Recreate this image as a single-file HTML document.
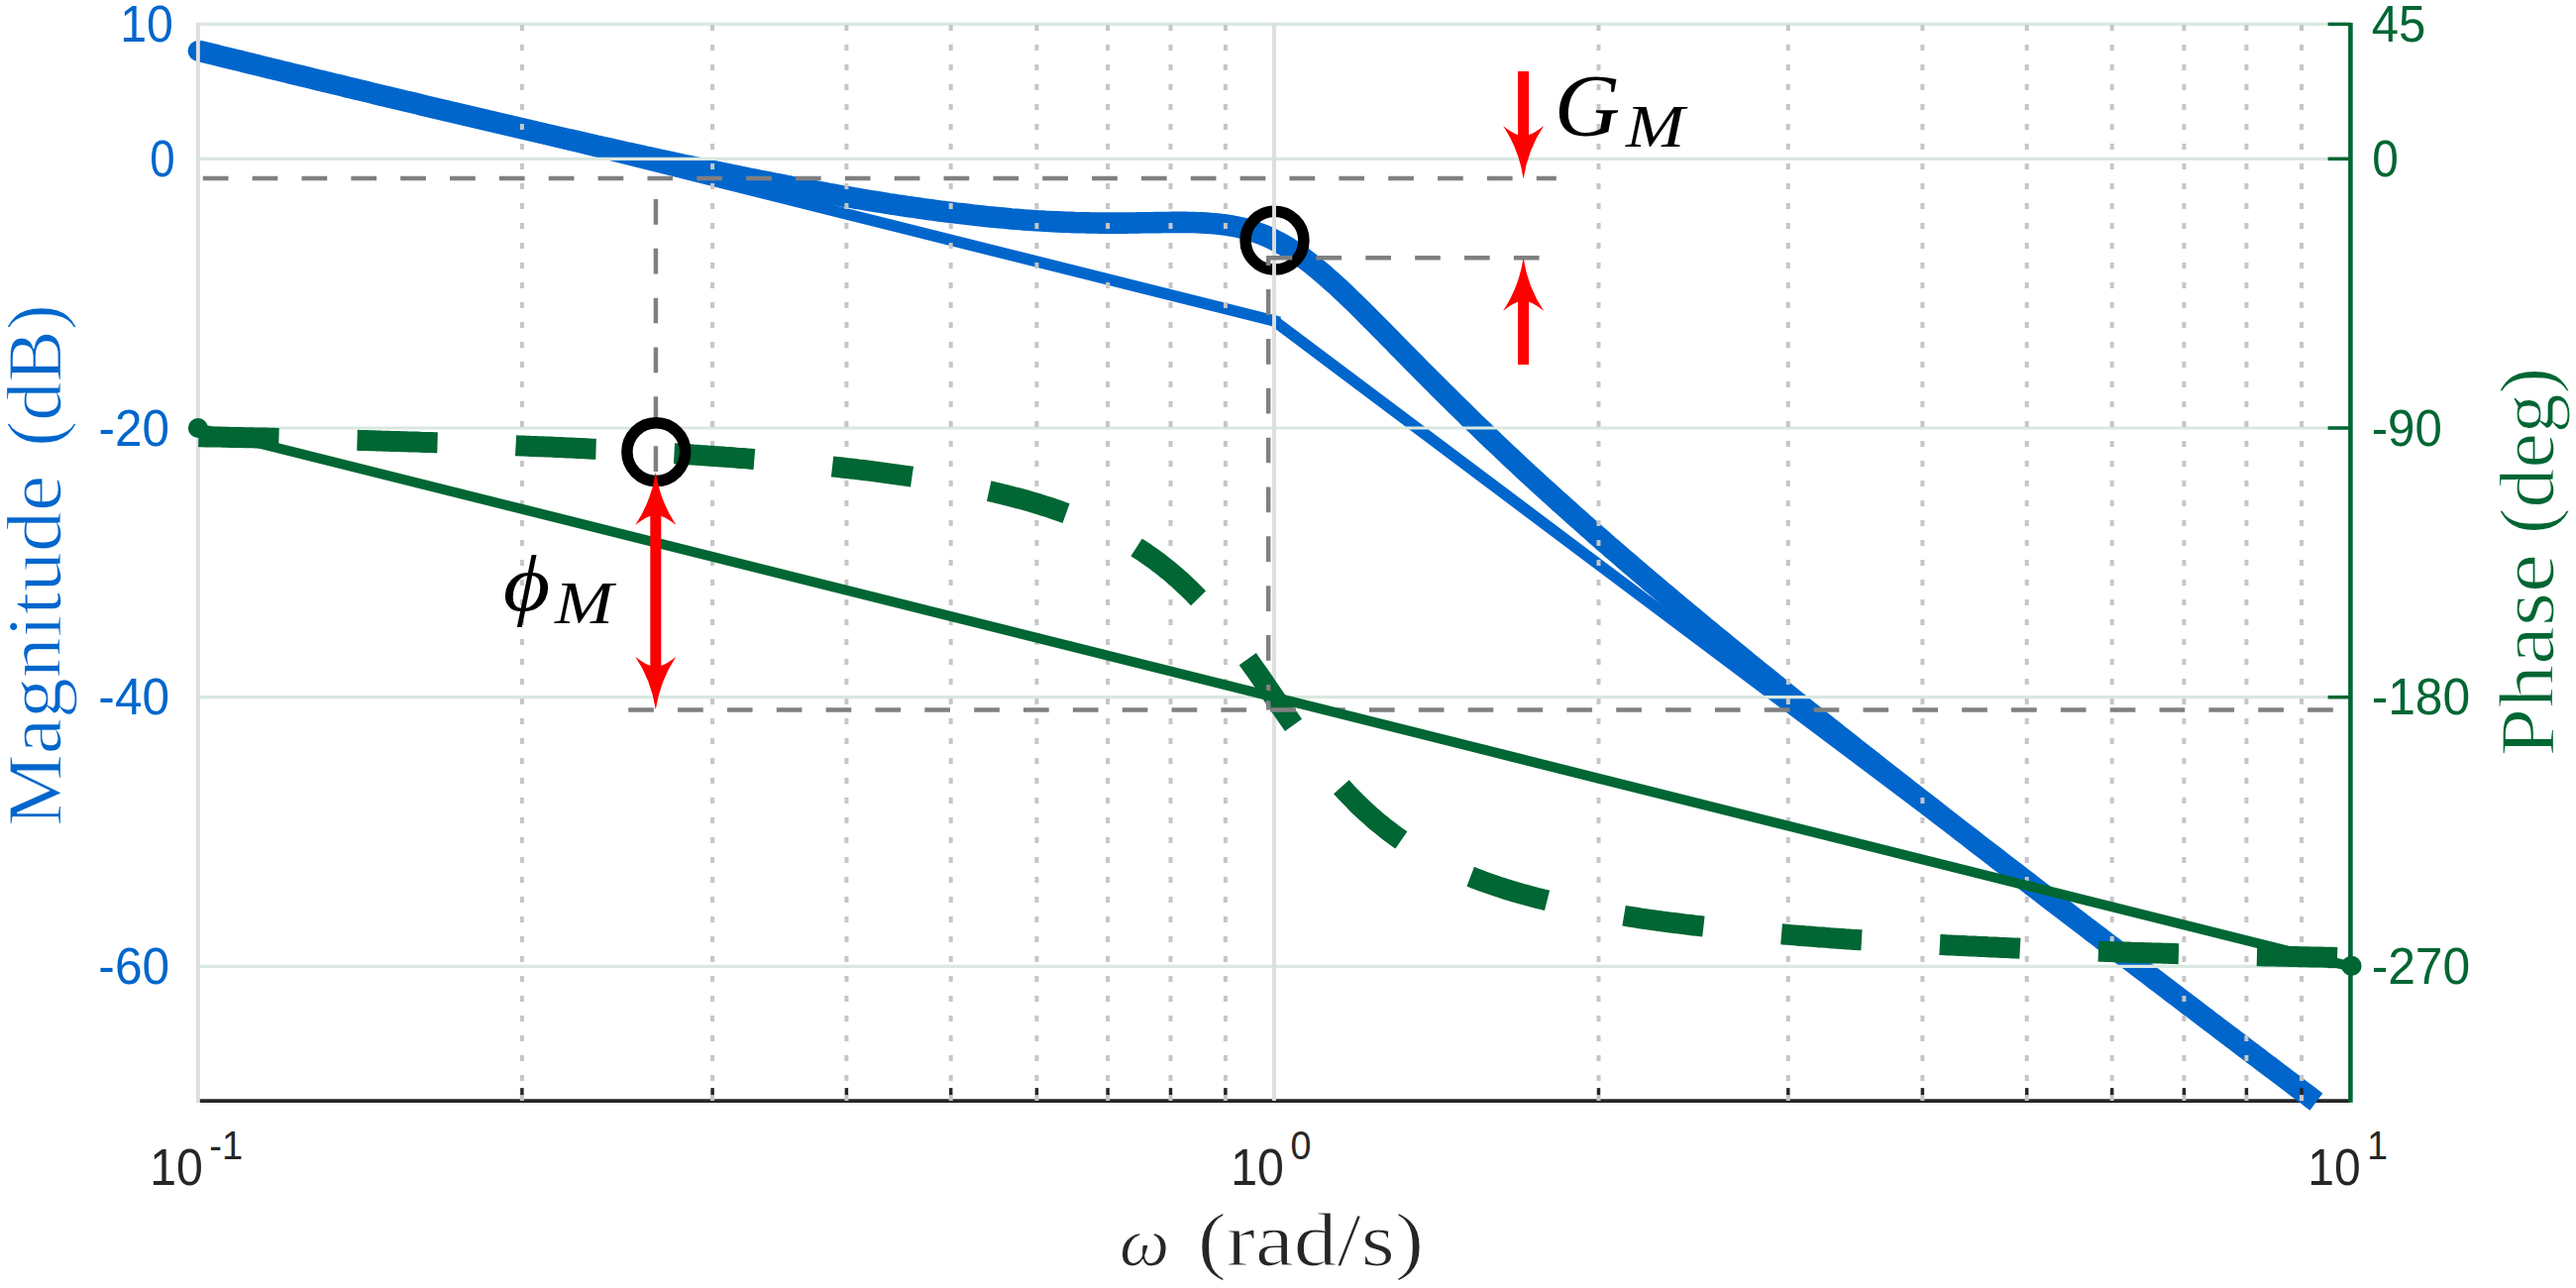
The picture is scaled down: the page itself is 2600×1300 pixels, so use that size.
<!DOCTYPE html>
<html lang="en"><head><meta charset="utf-8"><title>Bode plot</title>
<style>html,body{margin:0;padding:0;background:#fff;overflow:hidden}svg{display:block}.s{font-family:"Liberation Sans",sans-serif}.r{font-family:"Liberation Serif",serif;stroke:#fff;stroke-width:1.2px}.m{font-family:"Liberation Serif",serif}</style></head><body>
<svg width="2600" height="1300" viewBox="0 0 2600 1300" role="img" aria-label="Bode plot with gain and phase margins">
<rect width="2600" height="1300" fill="#fff"/>
<line x1="198.2" y1="1111.1" x2="2372.1" y2="1111.1" stroke="#262626" stroke-width="3.6"/>
<path d="M199.9 51.1 L204.2 52.2 L208.5 53.2 L212.8 54.3 L217.1 55.3 L221.3 56.4 L225.6 57.4 L229.9 58.5 L234.2 59.5 L238.4 60.6 L242.7 61.6 L247.0 62.7 L251.3 63.7 L255.5 64.8 L259.8 65.8 L264.1 66.9 L268.4 67.9 L272.6 69.0 L276.9 70.0 L281.2 71.0 L285.5 72.1 L289.7 73.1 L294.0 74.2 L298.3 75.2 L302.6 76.2 L306.8 77.3 L311.1 78.3 L315.4 79.4 L319.7 80.4 L324.0 81.4 L328.2 82.5 L332.5 83.5 L336.8 84.6 L341.1 85.6 L345.3 86.6 L349.6 87.7 L353.9 88.7 L358.2 89.7 L362.4 90.8 L366.7 91.8 L371.0 92.8 L375.3 93.9 L379.5 94.9 L383.8 95.9 L388.1 96.9 L392.4 98.0 L396.6 99.0 L400.9 100.0 L405.2 101.0 L409.5 102.1 L413.7 103.1 L418.0 104.1 L422.3 105.1 L426.6 106.2 L430.9 107.2 L435.1 108.2 L439.4 109.2 L443.7 110.2 L448.0 111.2 L452.2 112.3 L456.5 113.3 L460.8 114.3 L465.1 115.3 L469.3 116.3 L473.6 117.3 L477.9 118.3 L482.2 119.3 L486.4 120.3 L490.7 121.3 L495.0 122.3 L499.3 123.3 L503.5 124.3 L507.8 125.3 L512.1 126.3 L516.4 127.3 L520.6 128.3 L524.9 129.3 L529.2 130.3 L533.5 131.3 L537.7 132.3 L542.0 133.3 L546.3 134.3 L550.6 135.3 L554.9 136.2 L559.1 137.2 L563.4 138.2 L567.7 139.2 L572.0 140.2 L576.2 141.1 L580.5 142.1 L584.8 143.1 L589.1 144.1 L593.3 145.0 L597.6 146.0 L601.9 147.0 L606.2 147.9 L610.4 148.9 L614.7 149.8 L619.0 150.8 L623.3 151.7 L627.5 152.7 L631.8 153.7 L636.1 154.6 L640.4 155.5 L644.6 156.5 L648.9 157.4 L653.2 158.4 L657.5 159.3 L661.8 160.2 L666.0 161.2 L670.3 162.1 L674.6 163.0 L678.9 163.9 L683.1 164.9 L687.4 165.8 L691.7 166.7 L696.0 167.6 L700.2 168.5 L704.5 169.4 L708.8 170.3 L713.1 171.2 L717.3 172.1 L721.6 173.0 L725.9 173.9 L730.2 174.8 L734.4 175.6 L738.7 176.5 L743.0 177.4 L747.3 178.3 L751.5 179.1 L755.8 180.0 L760.1 180.8 L764.4 181.7 L768.6 182.5 L772.9 183.4 L777.2 184.2 L781.5 185.1 L785.8 185.9 L790.0 186.7 L794.3 187.5 L798.6 188.4 L802.9 189.2 L807.1 190.0 L811.4 190.8 L815.7 191.6 L820.0 192.4 L824.2 193.2 L828.5 193.9 L832.8 194.7 L837.1 195.5 L841.3 196.2 L845.6 197.0 L849.9 197.8 L854.2 198.5 L858.4 199.2 L862.7 200.0 L867.0 200.7 L871.3 201.4 L875.5 202.1 L879.8 202.8 L884.1 203.5 L888.4 204.2 L892.7 204.9 L896.9 205.6 L901.2 206.2 L905.5 206.9 L909.8 207.5 L914.0 208.2 L918.3 208.8 L922.6 209.4 L926.9 210.0 L931.1 210.6 L935.4 211.2 L939.7 211.8 L944.0 212.4 L948.2 213.0 L952.5 213.5 L956.8 214.1 L961.1 214.6 L965.3 215.1 L969.6 215.6 L973.9 216.1 L978.2 216.6 L982.4 217.1 L986.7 217.6 L991.0 218.0 L995.3 218.5 L999.6 218.9 L1003.8 219.3 L1008.1 219.7 L1012.4 220.1 L1016.7 220.5 L1020.9 220.9 L1025.2 221.2 L1029.5 221.6 L1033.8 221.9 L1038.0 222.2 L1042.3 222.5 L1046.6 222.8 L1050.9 223.0 L1055.1 223.3 L1059.4 223.5 L1063.7 223.7 L1068.0 223.9 L1072.2 224.1 L1076.5 224.3 L1080.8 224.4 L1085.1 224.6 L1089.3 224.7 L1093.6 224.8 L1097.9 224.9 L1102.2 225.0 L1106.4 225.0 L1110.7 225.1 L1115.0 225.1 L1119.3 225.1 L1123.6 225.1 L1127.8 225.1 L1132.1 225.1 L1136.4 225.1 L1140.7 225.0 L1144.9 225.0 L1149.2 224.9 L1153.5 224.8 L1157.8 224.8 L1162.0 224.7 L1166.3 224.6 L1170.6 224.6 L1174.9 224.5 L1179.1 224.5 L1183.4 224.4 L1187.7 224.4 L1192.0 224.4 L1196.2 224.4 L1200.5 224.5 L1204.8 224.5 L1209.1 224.7 L1213.3 224.9 L1217.6 225.1 L1221.9 225.4 L1226.2 225.7 L1230.5 226.2 L1234.7 226.7 L1239.0 227.3 L1243.3 228.0 L1247.6 228.8 L1251.8 229.7 L1256.1 230.8 L1260.4 232.0 L1264.7 233.3 L1268.9 234.8 L1273.2 236.4 L1277.5 238.1 L1281.8 240.0 L1286.0 242.1 L1290.3 244.3 L1294.6 246.7 L1298.9 249.2 L1303.1 251.9 L1307.4 254.7 L1311.7 257.6 L1316.0 260.7 L1320.2 264.0 L1324.5 267.3 L1328.8 270.8 L1333.1 274.4 L1337.3 278.0 L1341.6 281.8 L1345.9 285.6 L1350.2 289.5 L1354.5 293.5 L1358.7 297.6 L1363.0 301.7 L1367.3 305.8 L1371.6 310.0 L1375.8 314.2 L1380.1 318.5 L1384.4 322.8 L1388.7 327.1 L1392.9 331.4 L1397.2 335.7 L1401.5 340.1 L1405.8 344.4 L1410.0 348.8 L1414.3 353.1 L1418.6 357.5 L1422.9 361.8 L1427.1 366.1 L1431.4 370.5 L1435.7 374.8 L1440.0 379.1 L1444.2 383.4 L1448.5 387.7 L1452.8 392.0 L1457.1 396.2 L1461.4 400.5 L1465.6 404.7 L1469.9 408.9 L1474.2 413.1 L1478.5 417.3 L1482.7 421.5 L1487.0 425.7 L1491.3 429.8 L1495.6 433.9 L1499.8 438.0 L1504.1 442.1 L1508.4 446.2 L1512.7 450.3 L1516.9 454.3 L1521.2 458.3 L1525.5 462.4 L1529.8 466.4 L1534.0 470.3 L1538.3 474.3 L1542.6 478.3 L1546.9 482.2 L1551.1 486.1 L1555.4 490.1 L1559.7 494.0 L1564.0 497.8 L1568.3 501.7 L1572.5 505.6 L1576.8 509.4 L1581.1 513.3 L1585.4 517.1 L1589.6 520.9 L1593.9 524.7 L1598.2 528.5 L1602.5 532.3 L1606.7 536.0 L1611.0 539.8 L1615.3 543.5 L1619.6 547.3 L1623.8 551.0 L1628.1 554.7 L1632.4 558.4 L1636.7 562.1 L1640.9 565.8 L1645.2 569.4 L1649.5 573.1 L1653.8 576.8 L1658.0 580.4 L1662.3 584.0 L1666.6 587.7 L1670.9 591.3 L1675.1 594.9 L1679.4 598.5 L1683.7 602.1 L1688.0 605.7 L1692.3 609.3 L1696.5 612.9 L1700.8 616.4 L1705.1 620.0 L1709.4 623.5 L1713.6 627.1 L1717.9 630.6 L1722.2 634.2 L1726.5 637.7 L1730.7 641.2 L1735.0 644.7 L1739.3 648.2 L1743.6 651.8 L1747.8 655.2 L1752.1 658.7 L1756.4 662.2 L1760.7 665.7 L1764.9 669.2 L1769.2 672.7 L1773.5 676.1 L1777.8 679.6 L1782.0 683.0 L1786.3 686.5 L1790.6 689.9 L1794.9 693.4 L1799.2 696.8 L1803.4 700.3 L1807.7 703.7 L1812.0 707.1 L1816.3 710.5 L1820.5 714.0 L1824.8 717.4 L1829.1 720.8 L1833.4 724.2 L1837.6 727.6 L1841.9 731.0 L1846.2 734.4 L1850.5 737.8 L1854.7 741.2 L1859.0 744.5 L1863.3 747.9 L1867.6 751.3 L1871.8 754.7 L1876.1 758.0 L1880.4 761.4 L1884.7 764.8 L1888.9 768.1 L1893.2 771.5 L1897.5 774.9 L1901.8 778.2 L1906.0 781.6 L1910.3 784.9 L1914.6 788.3 L1918.9 791.6 L1923.2 794.9 L1927.4 798.3 L1931.7 801.6 L1936.0 805.0 L1940.3 808.3 L1944.5 811.6 L1948.8 814.9 L1953.1 818.3 L1957.4 821.6 L1961.6 824.9 L1965.9 828.2 L1970.2 831.5 L1974.5 834.9 L1978.7 838.2 L1983.0 841.5 L1987.3 844.8 L1991.6 848.1 L1995.8 851.4 L2000.1 854.7 L2004.4 858.0 L2008.7 861.3 L2012.9 864.6 L2017.2 867.9 L2021.5 871.2 L2025.8 874.5 L2030.1 877.8 L2034.3 881.1 L2038.6 884.4 L2042.9 887.6 L2047.2 890.9 L2051.4 894.2 L2055.7 897.5 L2060.0 900.8 L2064.3 904.1 L2068.5 907.3 L2072.8 910.6 L2077.1 913.9 L2081.4 917.2 L2085.6 920.4 L2089.9 923.7 L2094.2 927.0 L2098.5 930.3 L2102.7 933.5 L2107.0 936.8 L2111.3 940.1 L2115.6 943.3 L2119.8 946.6 L2124.1 949.9 L2128.4 953.1 L2132.7 956.4 L2137.0 959.6 L2141.2 962.9 L2145.5 966.2 L2149.8 969.4 L2154.1 972.7 L2158.3 975.9 L2162.6 979.2 L2166.9 982.4 L2171.2 985.7 L2175.4 989.0 L2179.7 992.2 L2184.0 995.5 L2188.3 998.7 L2192.5 1002.0 L2196.8 1005.2 L2201.1 1008.5 L2205.4 1011.7 L2209.6 1015.0 L2213.9 1018.2 L2218.2 1021.4 L2222.5 1024.7 L2226.7 1027.9 L2231.0 1031.2 L2235.3 1034.4 L2239.6 1037.7 L2243.8 1040.9 L2248.1 1044.1 L2252.4 1047.4 L2256.7 1050.6 L2261.0 1053.9 L2265.2 1057.1 L2269.5 1060.3 L2273.8 1063.6 L2278.1 1066.8 L2282.3 1070.1 L2286.6 1073.3 L2290.9 1076.5 L2295.2 1079.8 L2299.4 1083.0 L2303.7 1086.2 L2308.0 1089.5 L2312.3 1092.7 L2316.5 1095.9 L2320.8 1099.2 L2325.1 1102.4 L2329.4 1105.6 L2333.6 1108.9 L2337.9 1112.1" fill="none" stroke="#0066cc" stroke-width="21.6" stroke-linejoin="round"/>
<circle cx="199.9" cy="51.4" r="10.3" fill="#0066cc"/>
<line x1="199.9" y1="52.2" x2="1286.0" y2="323.9" stroke="#0066cc" stroke-width="11.5" stroke-linecap="square"/>
<line x1="1286.0" y1="323.9" x2="2322.5" y2="1101.7" stroke="#0066cc" stroke-width="11.5" stroke-linecap="square"/>
<circle cx="1286.5" cy="242.7" r="29.4" fill="none" stroke="#000" stroke-width="11.5"/>
<line x1="198.0" y1="24.4" x2="2372.1" y2="24.4" stroke="#d9e8e1" stroke-width="3.2"/>
<line x1="198.0" y1="160.3" x2="2372.1" y2="160.3" stroke="#d9e8e1" stroke-width="3.2"/>
<line x1="198.0" y1="432.0" x2="2372.1" y2="432.0" stroke="#d9e8e1" stroke-width="3.2"/>
<line x1="198.0" y1="703.7" x2="2372.1" y2="703.7" stroke="#d9e8e1" stroke-width="3.2"/>
<line x1="198.0" y1="975.4" x2="2372.1" y2="975.4" stroke="#d9e8e1" stroke-width="3.2"/>
<line x1="526.9" y1="24.9" x2="526.9" y2="1111.1" stroke="#c6c6c6" stroke-width="4" stroke-dasharray="6 14"/>
<line x1="526.9" y1="1098.1" x2="526.9" y2="1105.1" stroke="#262626" stroke-width="3.5"/>
<line x1="719.1" y1="24.9" x2="719.1" y2="1111.1" stroke="#c6c6c6" stroke-width="4" stroke-dasharray="6 14"/>
<line x1="719.1" y1="1098.1" x2="719.1" y2="1105.1" stroke="#262626" stroke-width="3.5"/>
<line x1="854.4" y1="24.9" x2="854.4" y2="1111.1" stroke="#c6c6c6" stroke-width="4" stroke-dasharray="6 14"/>
<line x1="854.4" y1="1098.1" x2="854.4" y2="1105.1" stroke="#262626" stroke-width="3.5"/>
<line x1="959.7" y1="24.9" x2="959.7" y2="1111.1" stroke="#c6c6c6" stroke-width="4" stroke-dasharray="6 14"/>
<line x1="959.7" y1="1098.1" x2="959.7" y2="1105.1" stroke="#262626" stroke-width="3.5"/>
<line x1="1046.4" y1="24.9" x2="1046.4" y2="1111.1" stroke="#c6c6c6" stroke-width="4" stroke-dasharray="6 14"/>
<line x1="1046.4" y1="1098.1" x2="1046.4" y2="1105.1" stroke="#262626" stroke-width="3.5"/>
<line x1="1118.1" y1="24.9" x2="1118.1" y2="1111.1" stroke="#c6c6c6" stroke-width="4" stroke-dasharray="6 14"/>
<line x1="1118.1" y1="1098.1" x2="1118.1" y2="1105.1" stroke="#262626" stroke-width="3.5"/>
<line x1="1181.5" y1="24.9" x2="1181.5" y2="1111.1" stroke="#c6c6c6" stroke-width="4" stroke-dasharray="6 14"/>
<line x1="1181.5" y1="1098.1" x2="1181.5" y2="1105.1" stroke="#262626" stroke-width="3.5"/>
<line x1="1236.9" y1="24.9" x2="1236.9" y2="1111.1" stroke="#c6c6c6" stroke-width="4" stroke-dasharray="6 14"/>
<line x1="1236.9" y1="1098.1" x2="1236.9" y2="1105.1" stroke="#262626" stroke-width="3.5"/>
<line x1="1613.5" y1="24.9" x2="1613.5" y2="1111.1" stroke="#c6c6c6" stroke-width="4" stroke-dasharray="6 14"/>
<line x1="1613.5" y1="1098.1" x2="1613.5" y2="1105.1" stroke="#262626" stroke-width="3.5"/>
<line x1="1804.8" y1="24.9" x2="1804.8" y2="1111.1" stroke="#c6c6c6" stroke-width="4" stroke-dasharray="6 14"/>
<line x1="1804.8" y1="1098.1" x2="1804.8" y2="1105.1" stroke="#262626" stroke-width="3.5"/>
<line x1="1940.4" y1="24.9" x2="1940.4" y2="1111.1" stroke="#c6c6c6" stroke-width="4" stroke-dasharray="6 14"/>
<line x1="1940.4" y1="1098.1" x2="1940.4" y2="1105.1" stroke="#262626" stroke-width="3.5"/>
<line x1="2045.7" y1="24.9" x2="2045.7" y2="1111.1" stroke="#c6c6c6" stroke-width="4" stroke-dasharray="6 14"/>
<line x1="2045.7" y1="1098.1" x2="2045.7" y2="1105.1" stroke="#262626" stroke-width="3.5"/>
<line x1="2131.7" y1="24.9" x2="2131.7" y2="1111.1" stroke="#c6c6c6" stroke-width="4" stroke-dasharray="6 14"/>
<line x1="2131.7" y1="1098.1" x2="2131.7" y2="1105.1" stroke="#262626" stroke-width="3.5"/>
<line x1="2204.4" y1="24.9" x2="2204.4" y2="1111.1" stroke="#c6c6c6" stroke-width="4" stroke-dasharray="6 14"/>
<line x1="2204.4" y1="1098.1" x2="2204.4" y2="1105.1" stroke="#262626" stroke-width="3.5"/>
<line x1="2267.4" y1="24.9" x2="2267.4" y2="1111.1" stroke="#c6c6c6" stroke-width="4" stroke-dasharray="6 14"/>
<line x1="2267.4" y1="1098.1" x2="2267.4" y2="1105.1" stroke="#262626" stroke-width="3.5"/>
<line x1="2323.0" y1="24.9" x2="2323.0" y2="1111.1" stroke="#c6c6c6" stroke-width="4" stroke-dasharray="6 14"/>
<line x1="2323.0" y1="1098.1" x2="2323.0" y2="1105.1" stroke="#262626" stroke-width="3.5"/>
<line x1="199.9" y1="22.9" x2="199.9" y2="1112.9" stroke="#dedede" stroke-width="3.9"/>
<line x1="1286.0" y1="22.9" x2="1286.0" y2="1111.1" stroke="#dedede" stroke-width="3.9"/>
<path d="M199.9 440.7 L203.6 440.8 L207.2 440.9 L210.8 440.9 L214.4 441.0 L218.1 441.1 L221.7 441.1 L225.3 441.2 L228.9 441.3 L232.5 441.4 L236.2 441.4 L239.8 441.5 L243.4 441.6 L247.0 441.7 L250.6 441.7 L254.3 441.8 L257.9 441.9 L261.5 442.0 L265.1 442.1 L268.7 442.1 L272.4 442.2 L276.0 442.3 L279.6 442.4 L283.2 442.5 L286.8 442.5 L290.5 442.6 L294.1 442.7 L297.7 442.8 L301.3 442.9 L304.9 443.0 L308.6 443.0 L312.2 443.1 L315.8 443.2 L319.4 443.3 L323.0 443.4 L326.7 443.5 L330.3 443.6 L333.9 443.7 L337.5 443.8 L341.1 443.9 L344.8 444.0 L348.4 444.1 L352.0 444.2 L355.6 444.2 L359.2 444.3 L362.9 444.4 L366.5 444.5 L370.1 444.6 L373.7 444.7 L377.3 444.8 L381.0 444.9 L384.6 445.1 L388.2 445.2 L391.8 445.3 L395.4 445.4 L399.1 445.5 L402.7 445.6 L406.3 445.7 L409.9 445.8 L413.5 445.9 L417.2 446.0 L420.8 446.1 L424.4 446.3 L428.0 446.4 L431.7 446.5 L435.3 446.6 L438.9 446.7 L442.5 446.8 L446.1 447.0 L449.8 447.1 L453.4 447.2 L457.0 447.3 L460.6 447.5 L464.2 447.6 L467.9 447.7 L471.5 447.8 L475.1 448.0 L478.7 448.1 L482.3 448.2 L486.0 448.4 L489.6 448.5 L493.2 448.6 L496.8 448.8 L500.4 448.9 L504.1 449.0 L507.7 449.2 L511.3 449.3 L514.9 449.5 L518.5 449.6 L522.2 449.8 L525.8 449.9 L529.4 450.1 L533.0 450.2 L536.6 450.4 L540.3 450.5 L543.9 450.7 L547.5 450.8 L551.1 451.0 L554.7 451.1 L558.4 451.3 L562.0 451.5 L565.6 451.6 L569.2 451.8 L572.8 452.0 L576.5 452.1 L580.1 452.3 L583.7 452.5 L587.3 452.6 L590.9 452.8 L594.6 453.0 L598.2 453.2 L601.8 453.3 L605.4 453.5 L609.0 453.7 L612.7 453.9 L616.3 454.1 L619.9 454.3 L623.5 454.5 L627.1 454.7 L630.8 454.9 L634.4 455.0 L638.0 455.2 L641.6 455.5 L645.3 455.7 L648.9 455.9 L652.5 456.1 L656.1 456.3 L659.7 456.5 L663.4 456.7 L667.0 456.9 L670.6 457.1 L674.2 457.4 L677.8 457.6 L681.5 457.8 L685.1 458.0 L688.7 458.3 L692.3 458.5 L695.9 458.7 L699.6 459.0 L703.2 459.2 L706.8 459.5 L710.4 459.7 L714.0 460.0 L717.7 460.2 L721.3 460.5 L724.9 460.7 L728.5 461.0 L732.1 461.3 L735.8 461.5 L739.4 461.8 L743.0 462.1 L746.6 462.4 L750.2 462.6 L753.9 462.9 L757.5 463.2 L761.1 463.5 L764.7 463.8 L768.3 464.1 L772.0 464.4 L775.6 464.7 L779.2 465.0 L782.8 465.3 L786.4 465.7 L790.1 466.0 L793.7 466.3 L797.3 466.6 L800.9 467.0 L804.5 467.3 L808.2 467.7 L811.8 468.0 L815.4 468.4 L819.0 468.7 L822.6 469.1 L826.3 469.4 L829.9 469.8 L833.5 470.2 L837.1 470.6 L840.7 471.0 L844.4 471.4 L848.0 471.8 L851.6 472.2 L855.2 472.6 L858.9 473.0 L862.5 473.4 L866.1 473.9 L869.7 474.3 L873.3 474.7 L877.0 475.2 L880.6 475.7 L884.2 476.1 L887.8 476.6 L891.4 477.1 L895.1 477.6 L898.7 478.1 L902.3 478.6 L905.9 479.1 L909.5 479.6 L913.2 480.1 L916.8 480.6 L920.4 481.2 L924.0 481.7 L927.6 482.3 L931.3 482.9 L934.9 483.5 L938.5 484.1 L942.1 484.7 L945.7 485.3 L949.4 485.9 L953.0 486.5 L956.6 487.2 L960.2 487.9 L963.8 488.5 L967.5 489.2 L971.1 489.9 L974.7 490.6 L978.3 491.4 L981.9 492.1 L985.6 492.9 L989.2 493.6 L992.8 494.4 L996.4 495.2 L1000.0 496.0 L1003.7 496.9 L1007.3 497.7 L1010.9 498.6 L1014.5 499.5 L1018.1 500.4 L1021.8 501.3 L1025.4 502.3 L1029.0 503.2 L1032.6 504.2 L1036.2 505.2 L1039.9 506.3 L1043.5 507.3 L1047.1 508.4 L1050.7 509.5 L1054.3 510.7 L1058.0 511.8 L1061.6 513.0 L1065.2 514.3 L1068.8 515.5 L1072.5 516.8 L1076.1 518.1 L1079.7 519.5 L1083.3 520.8 L1086.9 522.3 L1090.6 523.7 L1094.2 525.2 L1097.8 526.7 L1101.4 528.3 L1105.0 529.9 L1108.7 531.6 L1112.3 533.3 L1115.9 535.1 L1119.5 536.9 L1123.1 538.7 L1126.8 540.7 L1130.4 542.6 L1134.0 544.7 L1137.6 546.7 L1141.2 548.9 L1144.9 551.1 L1148.5 553.4 L1152.1 555.7 L1155.7 558.1 L1159.3 560.6 L1163.0 563.2 L1166.6 565.8 L1170.2 568.5 L1173.8 571.3 L1177.4 574.2 L1181.1 577.2 L1184.7 580.2 L1188.3 583.4 L1191.9 586.6 L1195.5 590.0 L1199.2 593.4 L1202.8 596.9 L1206.4 600.6 L1210.0 604.3 L1213.6 608.1 L1217.3 612.1 L1220.9 616.1 L1224.5 620.3 L1228.1 624.6 L1231.7 628.9 L1235.4 633.4 L1239.0 637.9 L1242.6 642.6 L1246.2 647.3 L1249.8 652.1 L1253.5 657.0 L1257.1 662.0 L1260.7 667.1 L1264.3 672.2 L1267.9 677.3 L1271.6 682.6 L1275.2 687.8 L1278.8 693.1 L1282.4 698.4 L1286.0 703.7 L1289.7 709.0 L1293.3 714.3 L1296.9 719.6 L1300.5 724.8 L1304.2 730.1 L1307.8 735.2 L1311.4 740.3 L1315.0 745.4 L1318.6 750.4 L1322.3 755.3 L1325.9 760.1 L1329.5 764.8 L1333.1 769.5 L1336.7 774.0 L1340.4 778.5 L1344.0 782.8 L1347.6 787.1 L1351.2 791.3 L1354.8 795.3 L1358.5 799.3 L1362.1 803.1 L1365.7 806.8 L1369.3 810.5 L1372.9 814.0 L1376.6 817.4 L1380.2 820.8 L1383.8 824.0 L1387.4 827.2 L1391.0 830.2 L1394.7 833.2 L1398.3 836.1 L1401.9 838.9 L1405.5 841.6 L1409.1 844.2 L1412.8 846.8 L1416.4 849.3 L1420.0 851.7 L1423.6 854.0 L1427.2 856.3 L1430.9 858.5 L1434.5 860.7 L1438.1 862.7 L1441.7 864.8 L1445.3 866.7 L1449.0 868.7 L1452.6 870.5 L1456.2 872.3 L1459.8 874.1 L1463.4 875.8 L1467.1 877.5 L1470.7 879.1 L1474.3 880.7 L1477.9 882.2 L1481.5 883.7 L1485.2 885.1 L1488.8 886.6 L1492.4 887.9 L1496.0 889.3 L1499.6 890.6 L1503.3 891.9 L1506.9 893.1 L1510.5 894.4 L1514.1 895.6 L1517.8 896.7 L1521.4 897.9 L1525.0 899.0 L1528.6 900.1 L1532.2 901.1 L1535.9 902.2 L1539.5 903.2 L1543.1 904.2 L1546.7 905.1 L1550.3 906.1 L1554.0 907.0 L1557.6 907.9 L1561.2 908.8 L1564.8 909.7 L1568.4 910.5 L1572.1 911.4 L1575.7 912.2 L1579.3 913.0 L1582.9 913.8 L1586.5 914.5 L1590.2 915.3 L1593.8 916.0 L1597.4 916.8 L1601.0 917.5 L1604.6 918.2 L1608.3 918.9 L1611.9 919.5 L1615.5 920.2 L1619.1 920.9 L1622.7 921.5 L1626.4 922.1 L1630.0 922.7 L1633.6 923.3 L1637.2 923.9 L1640.8 924.5 L1644.5 925.1 L1648.1 925.7 L1651.7 926.2 L1655.3 926.8 L1658.9 927.3 L1662.6 927.8 L1666.2 928.3 L1669.8 928.8 L1673.4 929.3 L1677.0 929.8 L1680.7 930.3 L1684.3 930.8 L1687.9 931.3 L1691.5 931.7 L1695.1 932.2 L1698.8 932.7 L1702.4 933.1 L1706.0 933.5 L1709.6 934.0 L1713.2 934.4 L1716.9 934.8 L1720.5 935.2 L1724.1 935.6 L1727.7 936.0 L1731.4 936.4 L1735.0 936.8 L1738.6 937.2 L1742.2 937.6 L1745.8 938.0 L1749.5 938.3 L1753.1 938.7 L1756.7 939.0 L1760.3 939.4 L1763.9 939.7 L1767.6 940.1 L1771.2 940.4 L1774.8 940.8 L1778.4 941.1 L1782.0 941.4 L1785.7 941.7 L1789.3 942.1 L1792.9 942.4 L1796.5 942.7 L1800.1 943.0 L1803.8 943.3 L1807.4 943.6 L1811.0 943.9 L1814.6 944.2 L1818.2 944.5 L1821.9 944.8 L1825.5 945.0 L1829.1 945.3 L1832.7 945.6 L1836.3 945.9 L1840.0 946.1 L1843.6 946.4 L1847.2 946.7 L1850.8 946.9 L1854.4 947.2 L1858.1 947.4 L1861.7 947.7 L1865.3 947.9 L1868.9 948.2 L1872.5 948.4 L1876.2 948.7 L1879.8 948.9 L1883.4 949.1 L1887.0 949.4 L1890.6 949.6 L1894.3 949.8 L1897.9 950.0 L1901.5 950.3 L1905.1 950.5 L1908.7 950.7 L1912.4 950.9 L1916.0 951.1 L1919.6 951.3 L1923.2 951.5 L1926.8 951.7 L1930.5 951.9 L1934.1 952.2 L1937.7 952.4 L1941.3 952.5 L1945.0 952.7 L1948.6 952.9 L1952.2 953.1 L1955.8 953.3 L1959.4 953.5 L1963.1 953.7 L1966.7 953.9 L1970.3 954.1 L1973.9 954.2 L1977.5 954.4 L1981.2 954.6 L1984.8 954.8 L1988.4 954.9 L1992.0 955.1 L1995.6 955.3 L1999.3 955.4 L2002.9 955.6 L2006.5 955.8 L2010.1 955.9 L2013.7 956.1 L2017.4 956.3 L2021.0 956.4 L2024.6 956.6 L2028.2 956.7 L2031.8 956.9 L2035.5 957.0 L2039.1 957.2 L2042.7 957.3 L2046.3 957.5 L2049.9 957.6 L2053.6 957.8 L2057.2 957.9 L2060.8 958.1 L2064.4 958.2 L2068.0 958.4 L2071.7 958.5 L2075.3 958.6 L2078.9 958.8 L2082.5 958.9 L2086.1 959.0 L2089.8 959.2 L2093.4 959.3 L2097.0 959.4 L2100.6 959.6 L2104.2 959.7 L2107.9 959.8 L2111.5 959.9 L2115.1 960.1 L2118.7 960.2 L2122.3 960.3 L2126.0 960.4 L2129.6 960.6 L2133.2 960.7 L2136.8 960.8 L2140.4 960.9 L2144.1 961.0 L2147.7 961.1 L2151.3 961.3 L2154.9 961.4 L2158.6 961.5 L2162.2 961.6 L2165.8 961.7 L2169.4 961.8 L2173.0 961.9 L2176.7 962.0 L2180.3 962.1 L2183.9 962.2 L2187.5 962.3 L2191.1 962.5 L2194.8 962.6 L2198.4 962.7 L2202.0 962.8 L2205.6 962.9 L2209.2 963.0 L2212.9 963.1 L2216.5 963.2 L2220.1 963.2 L2223.7 963.3 L2227.3 963.4 L2231.0 963.5 L2234.6 963.6 L2238.2 963.7 L2241.8 963.8 L2245.4 963.9 L2249.1 964.0 L2252.7 964.1 L2256.3 964.2 L2259.9 964.3 L2263.5 964.4 L2267.2 964.4 L2270.8 964.5 L2274.4 964.6 L2278.0 964.7 L2281.6 964.8 L2285.3 964.9 L2288.9 964.9 L2292.5 965.0 L2296.1 965.1 L2299.7 965.2 L2303.4 965.3 L2307.0 965.3 L2310.6 965.4 L2314.2 965.5 L2317.8 965.6 L2321.5 965.7 L2325.1 965.7 L2328.7 965.8 L2332.3 965.9 L2335.9 966.0 L2339.6 966.0 L2343.2 966.1 L2346.8 966.2 L2350.4 966.3 L2354.0 966.3 L2357.7 966.4 L2361.3 966.5 L2364.9 966.5 L2368.5 966.6 L2372.1 966.7" fill="none" stroke="#006633" stroke-width="21" stroke-dasharray="81.1 79.05" stroke-dashoffset="-0.5"/>
<line x1="204.8" y1="180.0" x2="1570.8" y2="180.0" stroke="#808080" stroke-width="4.5" stroke-dasharray="25.7 24.15"/>
<line x1="661.9" y1="475.9" x2="661.9" y2="180.0" stroke="#808080" stroke-width="4.5" stroke-dasharray="25.7 24.15"/>
<line x1="1278.6" y1="260.3" x2="1553.7" y2="260.3" stroke="#808080" stroke-width="4.5" stroke-dasharray="25.7 24.15"/>
<line x1="1280.2" y1="716.6" x2="1280.2" y2="258.3" stroke="#808080" stroke-width="4.5" stroke-dasharray="25.7 24.15"/>
<line x1="634.2" y1="716.4" x2="2372.0" y2="716.4" stroke="#808080" stroke-width="4.5" stroke-dasharray="25.7 24.15"/>
<line x1="199.9" y1="432.0" x2="2372.1" y2="975.4" stroke="#006633" stroke-width="10.0"/>
<circle cx="199.9" cy="432.0" r="10" fill="#006633"/>
<circle cx="2373.4" cy="974.9" r="10.2" fill="#006633"/>
<line x1="2372.4" y1="22.9" x2="2372.4" y2="1112.8" stroke="#006633" stroke-width="4.6"/>
<line x1="2349.6" y1="24.4" x2="2372.4" y2="24.4" stroke="#006633" stroke-width="3.5"/>
<line x1="2349.6" y1="160.3" x2="2372.4" y2="160.3" stroke="#006633" stroke-width="3.5"/>
<line x1="2349.6" y1="432.0" x2="2372.4" y2="432.0" stroke="#006633" stroke-width="3.5"/>
<line x1="2349.6" y1="703.7" x2="2372.4" y2="703.7" stroke="#006633" stroke-width="3.5"/>
<line x1="2349.6" y1="975.4" x2="2372.4" y2="975.4" stroke="#006633" stroke-width="3.5"/>
<circle cx="662.3" cy="456.1" r="29.4" fill="none" stroke="#000" stroke-width="11.5"/>
<rect x="1532.10" y="72.0" width="11.0" height="65.5" fill="#ff0000"/>
<path d="M1537.6 180.5 Q1542.2 150.5 1558.2 126.9 Q1548.6 134.5 1543.1 135.9 L1532.1 135.9 Q1526.6 134.5 1517.0 126.9 Q1533.0 150.5 1537.6 180.5 Z" fill="#ff0000"/>
<rect x="1532.10" y="303.2" width="11.0" height="64.8" fill="#ff0000"/>
<path d="M1537.6 260.2 Q1542.2 290.2 1558.2 313.8 Q1548.6 306.2 1543.1 304.8 L1532.1 304.8 Q1526.6 306.2 1517.0 313.8 Q1533.0 290.2 1537.6 260.2 Z" fill="#ff0000"/>
<rect x="656.30" y="519.3" width="11.0" height="76.7" fill="#ff0000"/>
<path d="M661.8 476.3 Q666.4 506.3 682.4 529.9 Q672.8 522.3 667.3 520.9 L656.3 520.9 Q650.8 522.3 641.2 529.9 Q657.2 506.3 661.8 476.3 Z" fill="#ff0000"/>
<rect x="656.30" y="596.0" width="11.0" height="77.3" fill="#ff0000"/>
<path d="M661.8 716.3 Q666.4 686.3 682.4 662.7 Q672.8 670.3 667.3 671.7 L656.3 671.7 Q650.8 670.3 641.2 662.7 Q657.2 686.3 661.8 716.3 Z" fill="#ff0000"/>
<text class="s" transform="translate(121.18 42.1) scale(0.9273 1)" font-size="52.0" fill="#0066cc">10</text>
<text class="s" transform="translate(151.17 178.0) scale(0.8780 1)" font-size="52.0" fill="#0066cc">0</text>
<text class="s" transform="translate(99.57 449.7) scale(0.9513 1)" font-size="52.0" fill="#0066cc">-20</text>
<text class="s" transform="translate(99.37 721.4) scale(0.9541 1)" font-size="52.0" fill="#0066cc">-40</text>
<text class="s" transform="translate(99.37 993.1) scale(0.9541 1)" font-size="52.0" fill="#0066cc">-60</text>
<text class="s" transform="translate(2393.80 42.1) scale(0.9418 1)" font-size="52.0" fill="#006633">45</text>
<text class="s" transform="translate(2394.29 178.0) scale(0.9182 1)" font-size="52.0" fill="#006633">0</text>
<text class="s" transform="translate(2393.69 449.7) scale(0.9457 1)" font-size="52.0" fill="#006633">-90</text>
<text class="s" transform="translate(2393.66 721.4) scale(0.9558 1)" font-size="52.0" fill="#006633">-180</text>
<text class="s" transform="translate(2393.66 993.1) scale(0.9558 1)" font-size="52.0" fill="#006633">-270</text>
<text class="s" transform="translate(151.28 1196.4) scale(0.9273 1)" font-size="52.0" fill="#262626">10</text>
<text class="s" transform="translate(211.3 1170) scale(0.952 1)" font-size="40" fill="#262626">-1</text>
<text class="s" transform="translate(1242.18 1196.4) scale(0.9292 1)" font-size="52.0" fill="#262626">10</text>
<text class="s" transform="translate(1302.39 1170.0) scale(0.9424 1)" font-size="40.0" fill="#262626">0</text>
<text class="s" transform="translate(2329.30 1196.4) scale(0.9235 1)" font-size="52.0" fill="#262626">10</text>
<text class="s" transform="translate(2389.35 1170) scale(0.93 1)" font-size="40" fill="#262626">1</text>
<text class="r" transform="translate(61.1 834.05) rotate(-90) scale(1.0488 1)" font-size="78.0" fill="#0066cc">Magnitude</text>
<text class="r" transform="translate(61.1 450.83) rotate(-90) scale(1.0051 1)" font-size="78.0" fill="#0066cc">(dB)</text>
<text class="r" transform="translate(2576.9 763.53) rotate(-90) scale(1.1233 1)" font-size="78.0" fill="#006633">Phase</text>
<text class="r" transform="translate(2576.9 538.99) rotate(-90) scale(1.0218 1)" font-size="78.0" fill="#006633">(deg)</text>
<text class="r" transform="translate(1130.08 1277.00) scale(0.9137 0.8948)" font-size="78.0" fill="#262626" font-style="italic">ω</text>
<text class="r" transform="translate(1208.66 1277.0) scale(1.1368 1)" font-size="77.0" fill="#262626">(rad/s)</text>
<text class="m" transform="translate(1568.73 136.21) scale(1.0465 1.0155)" font-size="88.0" fill="#000" font-style="italic">G</text>
<text class="m" transform="translate(1640.89 147.80) scale(1.1660 0.9986)" font-size="61.0" fill="#000" font-style="italic">M</text>
<text class="m" transform="translate(507.63 616.37) scale(1.0438 0.9216)" font-size="88.0" fill="#000" font-style="italic">ϕ</text>
<text class="m" transform="translate(559.88 629.20) scale(1.1604 1.0111)" font-size="61.0" fill="#000" font-style="italic">M</text>
</svg></body></html>
